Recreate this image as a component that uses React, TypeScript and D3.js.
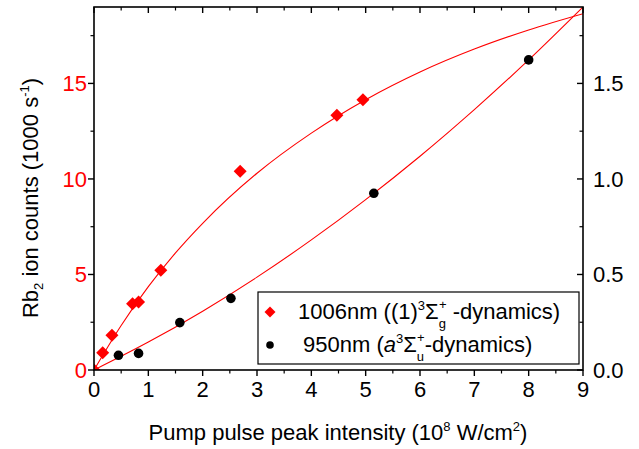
import React from "react";
import * as d3 from "d3";

const xTicks = [0, 1, 2, 3, 4, 5, 6, 7, 8, 9];
const xMinor = [0.5, 1.5, 2.5, 3.5, 4.5, 5.5, 6.5, 7.5, 8.5];
const yTicks = [0, 5, 10, 15];
const yMinor = [2.5, 7.5, 12.5, 17.5];
const yRightTicks = [0.0, 0.5, 1.0, 1.5];
const yRightMinor = [0.25, 0.75, 1.25, 1.75];

// 1006 nm data (left axis, 1000 s^-1)
const redX = [0, 0.16, 0.33, 0.71, 0.82, 1.23, 2.69, 4.47, 4.95];
const redY = [0, 0.9, 1.82, 3.47, 3.56, 5.22, 10.4, 13.33, 14.14];
// 950 nm data (right axis units)
const blackX = [0.45, 0.82, 1.58, 2.52, 5.15, 8.0];
const blackY = [0.077, 0.087, 0.248, 0.375, 0.925, 1.623];

// fit curves
const redFitX = [0, 0.5, 1, 1.5, 2, 3, 4, 5, 6, 7, 8, 9];
const redFitY = [0, 2.33, 4.36, 6.13, 7.68, 10.3, 12.4, 14.15, 15.6, 16.8, 17.8, 18.65];
const blackFitX = [0, 1, 2, 3, 4, 5, 6, 7, 8, 9];
const blackFitY = [0, 0.146, 0.308, 0.486, 0.681, 0.892, 1.119, 1.363, 1.623, 1.9];

const W = 639, H = 449;
const L = 94, R = 583, T = 7, B = 370;
const FONT = "'Liberation Sans', Arial, sans-serif";
const FS = 22;
const SUP = 13;

export default function App() {
  const x = d3.scaleLinear().domain([0, 9]).range([L, R]);
  const y = d3.scaleLinear().domain([0, 19]).range([B, T]);
  const y2 = d3.scaleLinear().domain([0, 1.9]).range([B, T]);

  const redLine = d3
    .line<number>()
    .x((_, i) => x(redFitX[i]))
    .y((d) => y(d))
    .curve(d3.curveMonotoneX)(redFitY) as string;
  const blackLine = d3
    .line<number>()
    .x((_, i) => x(blackFitX[i]))
    .y((d) => y2(d))
    .curve(d3.curveMonotoneX)(blackFitY) as string;

  const diamond = (cx: number, cy: number, r: number) =>
    `M${cx},${cy - r}L${cx + r},${cy}L${cx},${cy + r}L${cx - r},${cy}Z`;

  const maj = 6, mnr = 3.5;

  return (
    <svg width={W} height={H} style={{ position: "absolute", left: 0, top: 0, background: "#fff" }} fontFamily={FONT}>
      <defs>
        <clipPath id="plot">
          <rect x={L} y={T} width={R - L} height={B - T} />
        </clipPath>
      </defs>
      <rect x={0} y={0} width={W} height={H} fill="#fff" />
      {/* curves */}
      <g clipPath="url(#plot)">
        <path d={redLine} fill="none" stroke="#ff0000" strokeWidth={1.1} />
        <path d={blackLine} fill="none" stroke="#ff0000" strokeWidth={1.1} />
      </g>
      {/* markers */}
      <g clipPath="url(#plot)">
        {redX.map((v, i) => (
          <path key={"r" + i} d={diamond(x(v), y(redY[i]), 6.5)} fill="#ff0000" />
        ))}
        {blackX.map((v, i) => (
          <circle key={"b" + i} cx={x(v)} cy={y2(blackY[i])} r={4.8} fill="#000" />
        ))}
      </g>
      {/* frame */}
      <rect x={L} y={T} width={R - L} height={B - T} fill="none" stroke="#000" strokeWidth={1.6} />
      {/* bottom ticks (outward) and top ticks (inward) */}
      {xTicks.map((t) => (
        <g key={"xt" + t}>
          <line x1={x(t)} x2={x(t)} y1={B} y2={B + maj} stroke="#000" strokeWidth={1.4} />
          <line x1={x(t)} x2={x(t)} y1={T} y2={T + maj} stroke="#000" strokeWidth={1.4} />
          <text x={x(t)} y={397} textAnchor="middle" fontSize={FS} fill="#000">{t}</text>
        </g>
      ))}
      {xMinor.map((t) => (
        <g key={"xm" + t}>
          <line x1={x(t)} x2={x(t)} y1={B} y2={B + mnr} stroke="#000" strokeWidth={1.2} />
          <line x1={x(t)} x2={x(t)} y1={T} y2={T + mnr} stroke="#000" strokeWidth={1.2} />
        </g>
      ))}
      {/* left axis */}
      {yTicks.map((t) => (
        <g key={"yt" + t}>
          <line x1={L - maj} x2={L} y1={y(t)} y2={y(t)} stroke="#000" strokeWidth={1.4} />
          <text x={L - 7} y={y(t) + 8} textAnchor="end" fontSize={FS} fill="#ff0000">{t}</text>
        </g>
      ))}
      {yMinor.map((t) => (
        <line key={"ym" + t} x1={L - mnr} x2={L} y1={y(t)} y2={y(t)} stroke="#000" strokeWidth={1.2} />
      ))}
      {/* right axis */}
      {yRightTicks.map((t) => (
        <g key={"rt" + t}>
          <line x1={R - maj} x2={R} y1={y2(t)} y2={y2(t)} stroke="#000" strokeWidth={1.4} />
          <text x={R + 10} y={y2(t) + 8} textAnchor="start" fontSize={FS} fill="#000">{t.toFixed(1)}</text>
        </g>
      ))}
      {yRightMinor.map((t) => (
        <line key={"rm" + t} x1={R - mnr} x2={R} y1={y2(t)} y2={y2(t)} stroke="#000" strokeWidth={1.2} />
      ))}
      {/* axis titles */}
      <text x={338} y={440} textAnchor="middle" fontSize={FS} fill="#000">
        Pump pulse peak intensity (10
        <tspan fontSize={SUP} dy={-9}>8</tspan>
        <tspan dy={9}> W/cm</tspan>
        <tspan fontSize={SUP} dy={-9}>2</tspan>
        <tspan dy={9}>)</tspan>
      </text>
      <text transform={`translate(38,198) rotate(-90)`} textAnchor="middle" fontSize={FS} fill="#000">
        Rb
        <tspan fontSize={SUP} dy={5}>2</tspan>
        <tspan dy={-5}> ion counts (1000 s</tspan>
        <tspan fontSize={SUP} dy={-9}>-1</tspan>
        <tspan dy={9}>)</tspan>
      </text>
      {/* legend */}
      <rect x={258} y={292} width={321} height={72} fill="#fff" stroke="#000" strokeWidth={1.2} />
      <path d={diamond(270, 312, 5.5)} fill="#ff0000" />
      <circle cx={270} cy={345} r={3.8} fill="#000" />
      <text x={298} y={319} fontSize={FS} fill="#000">
        1006nm ((1)
        <tspan fontSize={SUP} dy={-9}>3</tspan>
        <tspan dy={9}>Σ</tspan>
        <tspan fontSize={SUP} dy={9}>g</tspan>
        <tspan fontSize={SUP} dx={-7} dy={-19}>+</tspan>
        <tspan dy={10}> -dynamics)</tspan>
      </text>
      <text x={303} y={352} fontSize={FS} fill="#000">
        950nm (<tspan fontStyle="italic">a</tspan>
        <tspan fontSize={SUP} dy={-9}>3</tspan>
        <tspan dy={9}>Σ</tspan>
        <tspan fontSize={SUP} dy={9}>u</tspan>
        <tspan fontSize={SUP} dx={-7} dy={-19}>+</tspan>
        <tspan dy={10}>-dynamics)</tspan>
      </text>
    </svg>
  );
}
